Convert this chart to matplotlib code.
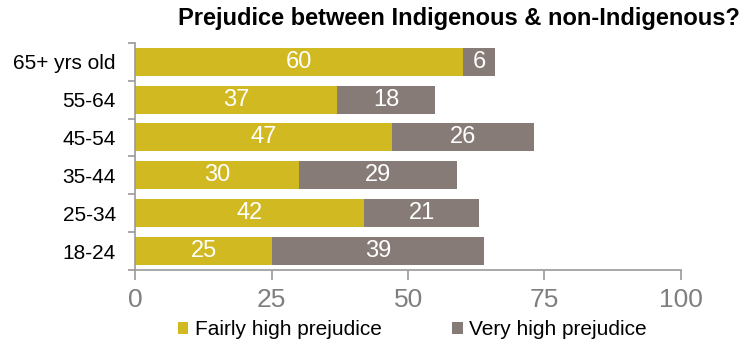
import matplotlib.pyplot as plt
import numpy as np

plt.rcParams['font.family'] = ['Liberation Sans', 'DejaVu Sans']

groups = ["65+ yrs old", "55-64", "45-54", "35-44", "25-34", "18-24"]
fairly = [60, 37, 47, 30, 42, 25]
very = [6, 18, 26, 29, 21, 39]

c_fairly = '#D1B921'
c_very = '#877B78'

fig = plt.figure(figsize=(7.44, 3.43), dpi=100)
ax = fig.add_axes([0.182, 0.213, 0.733, 0.662])

y = np.arange(len(groups))
b1 = ax.barh(y, fairly, height=0.74, color=c_fairly, label='Fairly high prejudice')
b2 = ax.barh(y, very, left=fairly, height=0.74, color=c_very, label='Very high prejudice')

for i in range(len(groups)):
    ax.text(fairly[i] / 2, y[i], str(fairly[i]), ha='center', va='center', color='white', fontsize=17)
    ax.text(fairly[i] + very[i] / 2, y[i], str(very[i]), ha='center', va='center', color='white', fontsize=17)

ax.set_ylim(len(groups) - 0.5, -0.5)
ax.set_xlim(0, 100)
ax.set_xticks([0, 25, 50, 75, 100])
ax.tick_params(axis='x', colors='#9a9a9a', labelcolor='#7f7f7f', labelsize=19, length=7, width=1.2, pad=6)

# y ticks on category boundaries, labels centered
ax.set_yticks(np.arange(len(groups) + 1) - 0.5)
ax.set_yticklabels([])
ax.set_yticks(y, minor=True)
ax.set_yticklabels(groups, minor=True, fontsize=15)
ax.tick_params(axis='y', which='minor', length=0, pad=14)
ax.tick_params(axis='y', which='major', length=5, width=1.2, colors='#9a9a9a')

for s in ['top', 'right']:
    ax.spines[s].set_visible(False)
for s in ['left', 'bottom']:
    ax.spines[s].set_color('#9a9a9a')
    ax.spines[s].set_linewidth(1.2)

fig.text(0.995, 0.945, 'Prejudice between Indigenous & non-Indigenous?', ha='right', va='center',
         fontsize=17, fontweight='bold')

fig.legend(handles=[b1, b2], loc='center', bbox_to_anchor=(0.554, 0.038), ncol=2, frameon=False,
           fontsize=15, handlelength=0.5, handleheight=0.5, handletextpad=0.3, columnspacing=3.4,
           borderpad=0, borderaxespad=0)

fig.savefig('out.png', dpi=100)
